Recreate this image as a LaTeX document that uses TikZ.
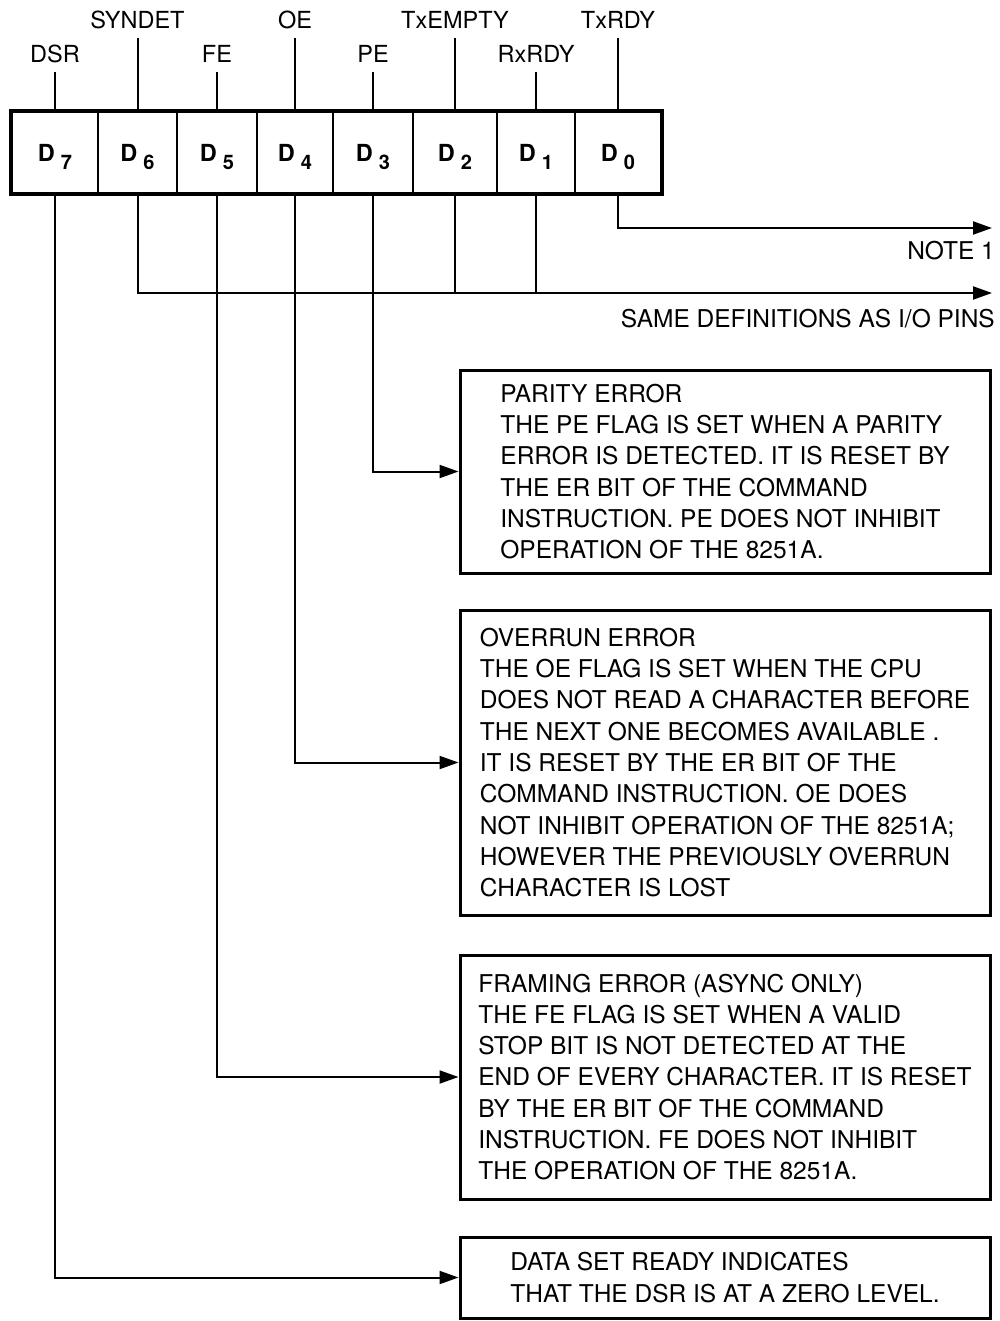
\documentclass[tikz,border=0pt]{standalone}
\usepackage{fontspec}
\setmainfont{TeX Gyre Heros}
\usetikzlibrary{arrows.meta}
\newcommand\bitname[1]{D\hspace{6pt}\raisebox{-8pt}{\fontsize{20}{20}\selectfont #1}}

\begin{document}
\begin{tikzpicture}[x=1pt, y=-1pt,
	cell/.style={draw, line width=2pt, minimum height=81pt, inner sep=0pt, text depth=0pt, font=\fontsize{23.5}{23.5}\selectfont\bfseries},
	flag/.style={inner xsep=0pt, inner ysep=9pt, anchor=south, font=\fontsize{23.5}{23.5}\selectfont},
	wire/.style={line width=2pt},
	arr/.style={wire, -{Triangle[length=19pt, width=13pt]}},
	infobox/.style={draw, line width=3pt, minimum width=530pt, align=left, inner sep=0pt, font=\fontsize{24.5}{31.3}\selectfont},
	txt/.style={inner sep=0pt, font=\fontsize{24.5}{24.5}\selectfont}]
	\useasboundingbox (0,0) rectangle (999,1321);
		\foreach \b/\xa/\xb in {7/12/98, 6/98/177, 5/177/257, 4/257/333, 3/333/413, 2/413/497, 1/497/575, 0/575/661}
			\node[cell, minimum width=\xb-\xa] (d\b) at ({(\xa+\xb)/2},152.5) {\bitname{\b}};
		\draw[line width=4pt] (d7.north west) rectangle (d0.south east);
			\foreach \b/\name/\y in {7/DSR/72, 6/SYNDET/38, 5/FE/72, 4/OE/38, 3/PE/72, 2/TxEMPTY/38, 1/RxRDY/72, 0/TxRDY/38}
				{\node[flag] (l\b) at (d\b.north |- 0,\y) {\name};
				\draw[wire] (l\b.south) -- (d\b.north);}
	\coordinate (n1) at (992,228);
	\coordinate (n2) at (992,293);
		\draw[arr] (d0.south) |- (n1);
		\node[txt, anchor=north east] (note1) at (995,241) {NOTE 1};
		\draw[arr] (d6.south) |- (n2);
			\foreach \b in {2,1}
				\draw[wire] (d\b.south) -- (d\b.south |- n2);
		\node[txt, anchor=north east] (same) at (995,309) {SAME DEFINITIONS AS I/O PINS};
	\node[infobox, minimum height=203pt] (parity) at (725,471.5) {PARITY ERROR\\
		THE PE FLAG IS SET WHEN A PARITY\\
		ERROR IS DETECTED. IT IS RESET BY\\
		THE ER BIT OF THE COMMAND\\
		INSTRUCTION. PE DOES NOT INHIBIT\\
		OPERATION OF THE 8251A.};
	\node[infobox, minimum height=305pt] (overrun) at (725,762.5) {OVERRUN ERROR\\
		THE OE FLAG IS SET WHEN THE CPU\\
		DOES NOT READ A CHARACTER BEFORE\\
		THE NEXT ONE BECOMES AVAILABLE .\\
		IT IS RESET BY THE ER BIT OF THE\\
		COMMAND INSTRUCTION. OE DOES\\
		NOT INHIBIT OPERATION OF THE 8251A;\\
		HOWEVER THE PREVIOUSLY OVERRUN\\
		CHARACTER IS LOST};
	\node[infobox, minimum height=244pt] (framing) at (725,1077) {FRAMING ERROR (ASYNC ONLY)\\
		THE FE FLAG IS SET WHEN A VALID\\
		STOP BIT IS NOT DETECTED AT THE\\
		END OF EVERY CHARACTER. IT IS RESET\\
		BY THE ER BIT OF THE COMMAND\\
		INSTRUCTION. FE DOES NOT INHIBIT\\
		THE OPERATION OF THE 8251A.};
	\node[infobox, minimum height=81pt] (dsr) at (725,1277.5) {DATA SET READY INDICATES\\
		THAT THE DSR IS AT A ZERO LEVEL.};
		\draw[arr] (d3.south) |- (parity.west);
		\draw[arr] (d4.south) |- (overrun.west);
		\draw[arr] (d5.south) |- (framing.west);
		\draw[arr] (d7.south) |- (dsr.west);
\end{tikzpicture}
\end{document}
